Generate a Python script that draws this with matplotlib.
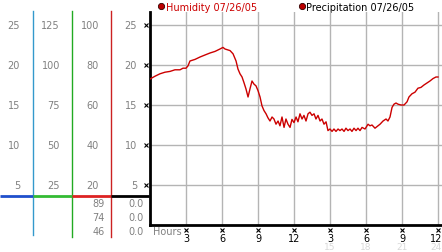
import matplotlib
matplotlib.use("Agg")
import matplotlib.pyplot as plt
from matplotlib.transforms import blended_transform_factory as blend

# ---------------- data ----------------
hours = [0.00, 0.42, 0.83, 1.25, 1.67, 2.08, 2.50, 2.75, 3.00, 3.17, 3.33, 3.75, 4.17, 4.58,
         5.00, 5.42, 5.83, 6.08, 6.25, 6.67, 6.92, 7.17, 7.33, 7.50, 7.67, 7.83, 8.00, 8.17,
         8.33, 8.50, 8.67, 8.83, 9.00, 9.17, 9.33, 9.50, 9.67, 9.83, 10.00, 10.17, 10.33,
         10.50, 10.67, 10.83, 11.00, 11.17, 11.33, 11.50, 11.67, 11.83, 12.00, 12.17, 12.33,
         12.50, 12.67, 12.83, 13.00, 13.17, 13.33, 13.50, 13.67, 13.83, 14.00, 14.17, 14.33,
         14.50, 14.67, 14.83, 15.00, 15.17, 15.33, 15.50, 15.67, 15.83, 16.00, 16.17, 16.33,
         16.50, 16.67, 16.83, 17.00, 17.17, 17.33, 17.50, 17.67, 17.92, 18.17, 18.33, 18.50,
         18.75, 19.00, 19.17, 19.42, 19.67, 19.83, 20.00, 20.17, 20.33, 20.50, 20.67, 20.92,
         21.17, 21.42, 21.58, 21.83, 22.08, 22.33, 22.58, 22.83, 23.08, 23.33, 23.58, 23.83, 24.00]
humidity = [73.0, 74.4, 75.6, 76.4, 76.8, 77.6, 77.6, 78.4, 78.4, 79.6, 82.0, 82.8, 84.0, 85.0,
            86.0, 86.8, 88.0, 88.8, 88.0, 87.2, 85.6, 82.0, 78.0, 75.6, 74.0, 71.2, 68.0, 64.0,
            68.0, 72.0, 70.4, 69.6, 67.2, 64.0, 59.6, 57.2, 55.6, 53.6, 52.0, 54.0, 53.0,
            50.4, 52.0, 49.6, 54.0, 48.8, 53.0, 50.4, 48.8, 52.8, 51.2, 54.0, 51.6,
            55.6, 53.0, 54.8, 52.0, 55.6, 56.4, 54.8, 55.6, 53.0, 54.8, 52.0, 53.0,
            50.4, 51.6, 47.2, 48.0, 46.8, 48.0, 46.8, 48.0, 47.2, 48.0, 46.8, 48.4,
            47.2, 48.0, 46.8, 48.4, 47.2, 48.4, 47.2, 48.8, 48.0, 50.4, 49.6, 50.0,
            48.4, 49.6, 50.4, 52.0, 53.0, 52.0, 54.0, 58.8, 60.4, 61.0, 60.4, 60.0,
            60.0, 61.6, 64.0, 65.6, 66.4, 68.4, 68.8, 70.0, 71.0, 72.0, 73.2, 74.0, 74.0]

scale_a = [25, 20, 15, 10, 5]          # first column
scale_b = [125, 100, 75, 50, 25]       # second column
scale_c = [100, 80, 60, 40, 20]        # third column (humidity %)
scale_d = [25, 20, 15, 10, 5]          # fourth column
hum_stats = ["89", "74", "46"]         # max / current / min
pre_stats = ["0.0", "0.0", "0.0"]

hour_ticks = [3, 6, 9, 12, 15, 18, 21, 24]
hour_labels = ["3", "6", "9", "12", "3", "6", "9", "12"]
hour_labels2 = ["15", "18", "21", "24"]

legend_items = ["Humidity 07/26/05", "Precipitation 07/26/05"]

# ---------------- figure ----------------
W, H = 442, 253
fig = plt.figure(figsize=(W / 100, H / 100), dpi=100)
fig.patch.set_facecolor("white")

# overlay in pixel coordinates for decorations
ov = fig.add_axes([0, 0, 1, 1])
ov.set_xlim(0, W)
ov.set_ylim(H, 0)
ov.axis("off")

# main plotting area
x0, x1, yt, yb = 150, 442, 13, 226
ax = fig.add_axes([x0 / W, (H - yb) / H, (x1 - x0) / W, (yb - yt) / H])
ax.set_xlim(0, (x1 - x0) / 12.0)
ax.set_ylim(0, (yb - yt) / 2.0)
ax.patch.set_alpha(0)

grid_c = "#b4b4b4"
for h in hour_ticks:
    ax.axvline(h, color=grid_c, lw=1, zorder=1)
for v in scale_c:
    ax.axhline(v, color=grid_c, lw=1, zorder=1)

ax.plot(hours, humidity, color="#cc0000", lw=1, zorder=3)

for s in ["top", "right"]:
    ax.spines[s].set_visible(False)
ax.spines["left"].set_linewidth(2)
ax.spines["bottom"].set_linewidth(2)
ax.set_xticks([])
ax.set_yticks([])

# tick markers
ax.plot([-0.3] * len(scale_c), scale_c, ls="none", marker="x", ms=2.5, mew=0.8,
        color="black", clip_on=False, zorder=5)
tb = blend(ax.transData, ov.transData)
xmax = ax.get_xlim()[1]
for i, (h, lab) in enumerate(zip(hour_ticks, hour_labels)):
    ax.plot([h], [-2.6], ls="none", marker="x", ms=2.5, mew=0.8, color="black",
            clip_on=False, zorder=5)
    if i == len(hour_ticks) - 1:
        ax.text(xmax, 239.5, lab, transform=tb, ha="right", va="center",
                fontsize=7, color="black")
    else:
        ax.text(h, 239.5, lab, transform=tb, ha="center", va="center",
                fontsize=7, color="black")
for i, (h, lab) in enumerate(zip(hour_ticks[4:], hour_labels2)):
    if i == len(hour_labels2) - 1:
        ax.text(xmax, 248, lab, transform=tb, ha="right", va="center",
                fontsize=6.5, color="#d8d8d8")
    else:
        ax.text(h, 248, lab, transform=tb, ha="center", va="center",
                fontsize=6.5, color="#d8d8d8")
ov.text(153, 232, "Hours", ha="left", va="center", fontsize=7, color="#808080")

# left scale columns
lab_c = "#808080"
tl = blend(ov.transData, ax.transData)
for a, b, c, d in zip(scale_a, scale_b, scale_c, scale_d):
    ov.text(20, c, str(a), transform=tl, ha="right", va="center", fontsize=7, color=lab_c)
    ov.text(60, c, str(b), transform=tl, ha="right", va="center", fontsize=7, color=lab_c)
    ov.text(99, c, str(c), transform=tl, ha="right", va="center", fontsize=7, color=lab_c)
    ov.text(137, c, str(d), transform=tl, ha="right", va="center", fontsize=7, color=lab_c)

for i, (hs, ps) in enumerate(zip(hum_stats, pre_stats)):
    yy = 204 + 14 * i
    ov.text(105, yy, hs, ha="right", va="center", fontsize=7, color=lab_c)
    ov.text(144, yy, ps, ha="right", va="center", fontsize=7, color=lab_c)

# colored dividers
ov.plot([33.3, 33.3], [12, 236], color="#3399cc", lw=1)
ov.plot([72.3, 72.3], [12, 238], color="#22aa22", lw=1)
ov.plot([111, 111], [12, 238], color="#cc2222", lw=1)
ov.plot([0, 33.3], [196.7, 196.7], color="#1f4fcc", lw=2, solid_capstyle="butt")
ov.plot([33.3, 72.3], [196.7, 196.7], color="#33bb33", lw=2, solid_capstyle="butt")
ov.plot([72.3, 111], [196.7, 196.7], color="#dd2222", lw=2, solid_capstyle="butt")
ov.plot([111, 149], [196.7, 196.7], color="black", lw=2, solid_capstyle="butt")

# legend
ov.plot([161], [7], marker="o", ms=4.5, color="#bb0000", mec="#330000", mew=0.6)
ov.text(166, 7.5, legend_items[0], ha="left", va="center", fontsize=7, color="#cc0000")
ov.plot([302], [7], marker="o", ms=4.5, color="#bb0000", mec="#330000", mew=0.6)
ov.text(306, 7.5, legend_items[1], ha="left", va="center", fontsize=7, color="black")

fig.savefig("out.png", dpi=100, facecolor="white")
